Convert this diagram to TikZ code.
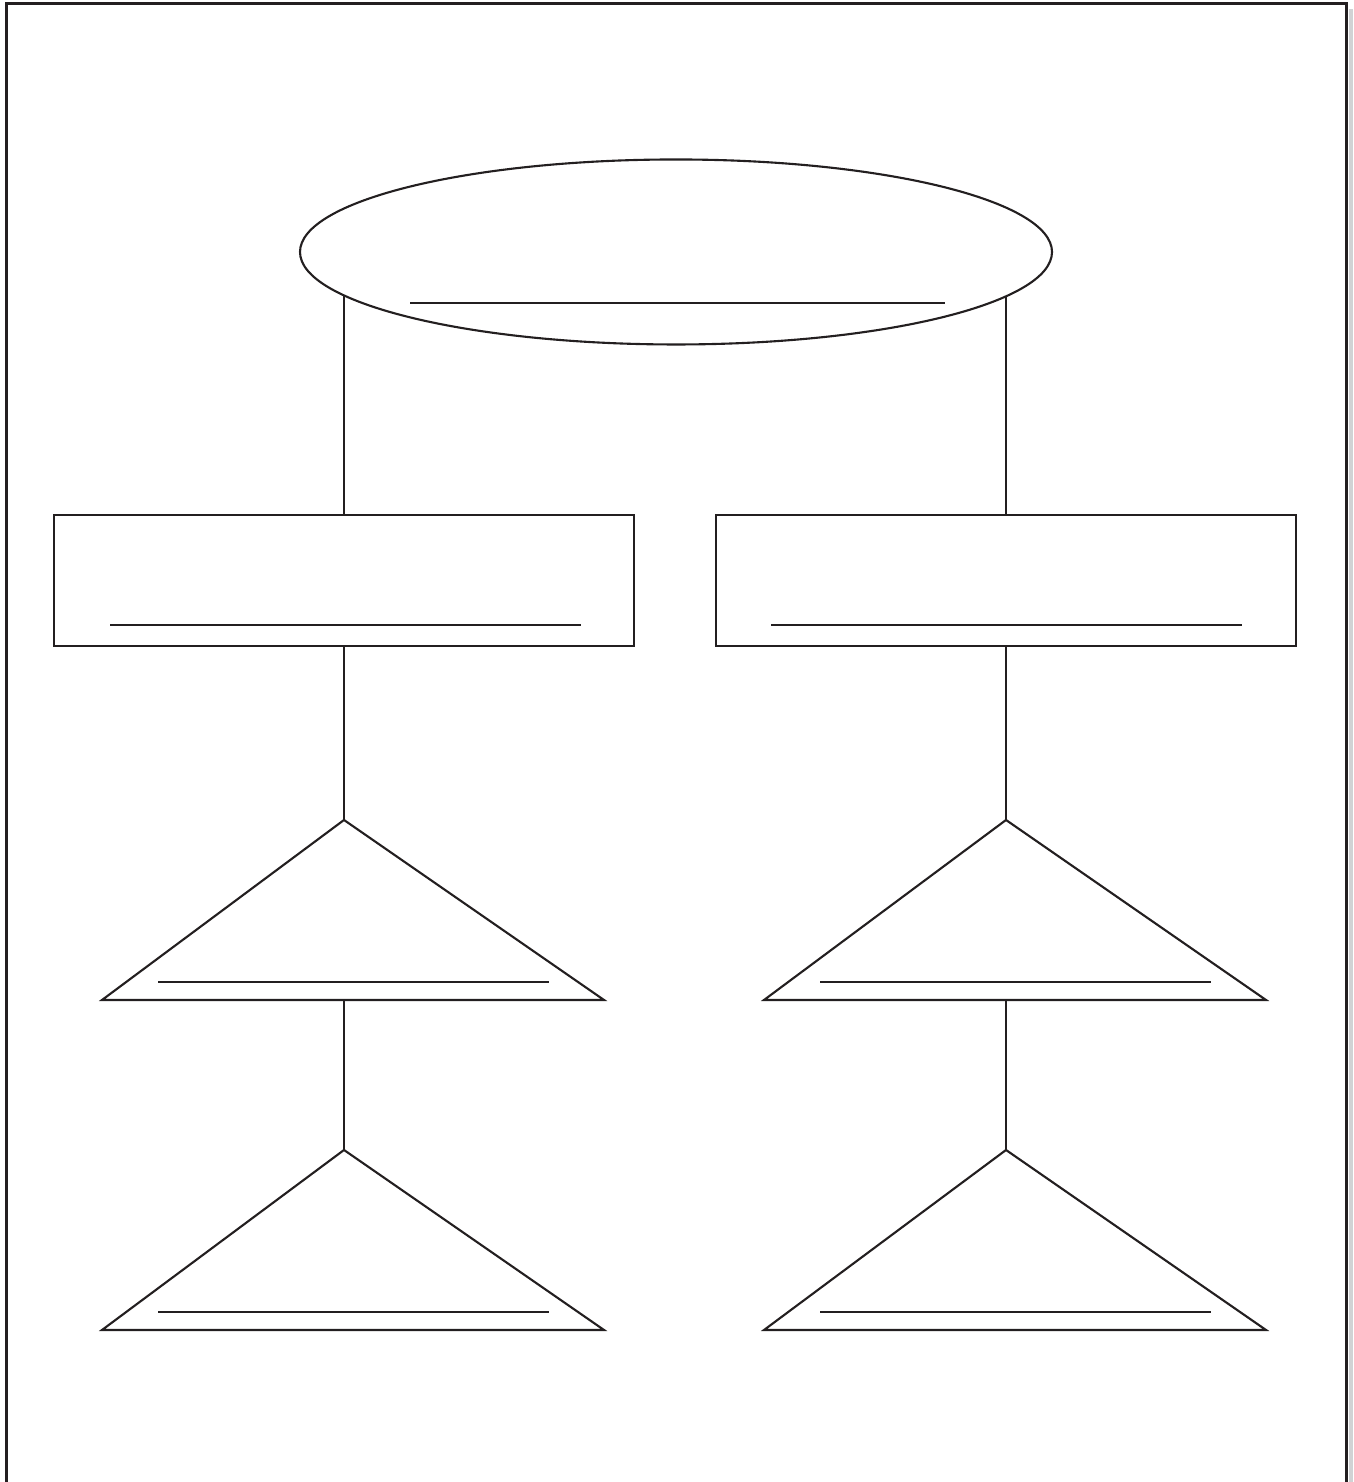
\documentclass[tikz,border=0pt]{standalone}
\usepackage{tikz}
\usetikzlibrary{
    positioning,
    shapes.geometric,
    backgrounds
}
\definecolor{inkgray}{HTML}{231F20}
\definecolor{shadegray}{HTML}{D1D2D4}
\tikzstyle{link}=[line width=0.6pt,draw=inkgray]

\begin{document}
\begin{tikzpicture}[
    blank/.style={
        draw=inkgray,
        line width=0.6pt
    },
    oval/.style={
        ellipse,
        draw=inkgray,
        fill=white,
        line width=0.6pt,
        minimum width=7.52cm,
        minimum height=1.85cm,
        inner sep=0pt,
        outer sep=0pt
    },
    box/.style={
        rectangle,
        draw=inkgray,
        line width=0.6pt,
        minimum width=5.8cm,
        minimum height=1.31cm,
        inner sep=0pt,
        outer sep=0pt
    }
]
\useasboundingbox (0,0) rectangle (13.53,14.82);
% page frame
\fill[shadegray] (13.485,0) rectangle (13.53,14.73);
\draw[inkgray,line width=0.85pt] (0.062,-0.5) -- (0.062,14.78) -- (13.463,14.78) -- (13.463,-0.5);

\node[oval] (top) at (6.76,12.30) {};
\draw[blank] ([shift={(-2.66,-0.51)}]top.center) -- ++(5.35,0);

\node[box] (left) at (3.44,9.015) {};
\node[box,right=0.82cm of left] (right) {};
\draw[blank] ([shift={(-2.34,0.21)}]left.south) -- ++(4.71,0);
\draw[blank] ([shift={(-2.35,0.21)}]right.south) -- ++(4.71,0);

\coordinate (la) at ([yshift=-1.74cm]left.south);
\coordinate (lb) at ([yshift=-5.04cm]left.south);
\coordinate (ra) at ([yshift=-1.74cm]right.south);
\coordinate (rb) at ([yshift=-5.04cm]right.south);
\foreach \apex in {la,lb,ra,rb}{
    \draw[blank] (\apex) -- ++(-2.42,-1.8) -- ++(5.02,0) -- cycle;
    \draw[blank] ([shift={(-1.86,-1.62)}]\apex) -- ++(3.91,0);
    \coordinate (\apex base) at ([yshift=-1.8cm]\apex);
}

\begin{scope}[on background layer]
\draw[link] (left.north) -- (left.north |- top.center);
\draw[link] (right.north) -- (right.north |- top.center);
\end{scope}
\draw[link] (left.south) -- (la);
\draw[link] (right.south) -- (ra);
\draw[link] (labase) -- (lb);
\draw[link] (rabase) -- (rb);
\end{tikzpicture}
\end{document}
